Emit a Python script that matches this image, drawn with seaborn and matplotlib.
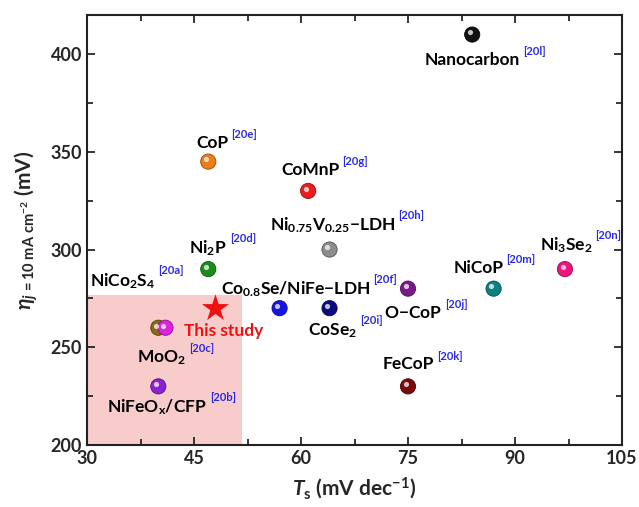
import matplotlib
matplotlib.use("Agg")
import matplotlib.pyplot as plt
import matplotlib.transforms as mtransforms
import matplotlib.colors as mcolors
import seaborn as sns
import pandas as pd

# ---- data ----
names = ["Nanocarbon", "CoP", "CoMnP", "NiV-LDH", "Ni2P", "Co0.8Se/NiFe-LDH",
         "CoSe2", "O-CoP", "NiCoP", "Ni3Se2", "FeCoP", "NiCo2S4", "MoO2", "NiFeOx/CFP"]
labels = ["Nanocarbon", "CoP", "CoMnP", r"Ni$_{0.75}$V$_{0.25}$$-$LDH", r"Ni$_2$P",
          r"Co$_{0.8}$Se/NiFe$-$LDH", r"CoSe$_2$", r"O$-$CoP", "NiCoP", r"Ni$_3$Se$_2$",
          "FeCoP", r"NiCo$_2$S$_4$", r"MoO$_2$", r"NiFeO$_x$/CFP"]
refs = ["[20l]", "[20e]", "[20g]", "[20h]", "[20d]", "[20f]", "[20i]", "[20j]",
        "[20m]", "[20n]", "[20k]", "[20a]", "[20c]", "[20b]"]
tafel = [84, 47, 61, 64, 47, 57, 64, 75, 87, 97, 75, 40, 41, 40]
eta = [410, 345, 330, 300, 290, 270, 270, 280, 280, 290, 230, 260, 260, 230]
colors = ["#111111", "#f07d14", "#ee1c1c", "#8c8c8c", "#1a8c1a", "#1414e6",
          "#0a0a80", "#7a1a8a", "#0a8080", "#f0147a", "#7a0a0a", "#8a6a10",
          "#e020e0", "#8a20d0"]
# label offsets (pixels) relative to each point
label_dx = [0, 4, 2, 3, 0, 16, 3, 5, -15, 1, 0, -36, -4, -1]
label_dy = [-25, 19, 21, 24, 21, 19, -22, -24, 21, 24, 22, 47, -30, -21]

this_x = [48]
this_y = [270]
shade_x = [30, 51.7]
shade_y = [200, 277]

xticks = [30, 45, 60, 75, 90, 105]
yticks = [200, 250, 300, 350, 400]

df = pd.DataFrame({"name": names, "tafel": tafel, "eta": eta})

# ---- style ----
sns.set_style("ticks")
plt.rcParams["font.family"] = ["Lato", "DejaVu Sans"]
plt.rcParams["font.weight"] = "bold"
plt.rcParams["mathtext.fontset"] = "custom"
plt.rcParams["mathtext.rm"] = "Lato:bold"
plt.rcParams["mathtext.bf"] = "Lato:bold"
plt.rcParams["mathtext.it"] = "Lato:bold:italic"
plt.rcParams["mathtext.default"] = "bf"

fig = plt.figure(figsize=(6.39, 5.07), dpi=100)
ax = fig.add_axes([87 / 639, 1 - 445 / 507, 535 / 639, 430 / 507])

ax.fill_between(shade_x, shade_y[0], shade_y[1], color="#f9cccc", lw=0, zorder=0)

palette = dict(zip(names, colors))
edge = [tuple(c * 0.6 for c in mcolors.to_rgb(col)) for col in colors]
sns.scatterplot(data=df, x="tafel", y="eta", hue="name", palette=palette,
                s=120, edgecolor=edge, linewidth=0.6, legend=False, ax=ax, zorder=3)
# sphere highlight
hl = ax.transData + mtransforms.ScaledTranslation(-0.022, 0.022, fig.dpi_scale_trans)
ax.scatter(tafel, eta, s=14, color="white", alpha=0.75, lw=0, transform=hl, zorder=4)

ax.scatter(this_x, this_y, marker="*", s=420, color="#ee1111", lw=0, zorder=5)
ax.annotate("This study", (this_x[0], this_y[0]), xytext=(8, -23),
            textcoords="offset pixels", ha="center", va="center",
            color="#ee1111", fontsize=12.5, fontweight="bold")

for i in range(len(names)):
    t = ax.annotate(labels[i], (tafel[i], eta[i]), xytext=(label_dx[i], label_dy[i]),
                    textcoords="offset pixels", ha="center", va="center",
                    color="black", fontsize=12.5, fontweight="bold", zorder=6)
    ax.annotate(refs[i], xy=(1, 1), xycoords=t, xytext=(3, 0),
                textcoords="offset pixels", ha="left", va="center",
                color="#2a2ae0", fontsize=8, fontweight="bold", zorder=6)

ax.set_xlim(30, 105)
ax.set_ylim(200, 420)
ax.set_xticks(xticks)
ax.set_yticks(yticks)
ax.set_xticks([37.5, 52.5, 67.5, 82.5, 97.5], minor=True)
ax.set_yticks([225, 275, 325, 375], minor=True)
ax.tick_params(which="both", direction="in", top=True, right=True,
               width=1.3, labelsize=13)
ax.tick_params(which="major", length=6)
ax.tick_params(which="minor", length=4)
for lab in ax.get_xticklabels() + ax.get_yticklabels():
    lab.set_fontweight("bold")
for sp in ax.spines.values():
    sp.set_linewidth(1.5)
    sp.set_color("#222222")

ax.set_xlabel(r"$\mathit{T}_{\mathbf{s}}$ (mV dec$^{-1}$)", fontsize=15, fontweight="bold", labelpad=6)
ax.set_ylabel(r"$\mathit{\eta}_{\mathit{j}\,\mathbf{= 10\ mA\ cm^{-2}}}$ (mV)", fontsize=15,
              fontweight="bold", labelpad=8)

fig.savefig("out.png", dpi=100)
